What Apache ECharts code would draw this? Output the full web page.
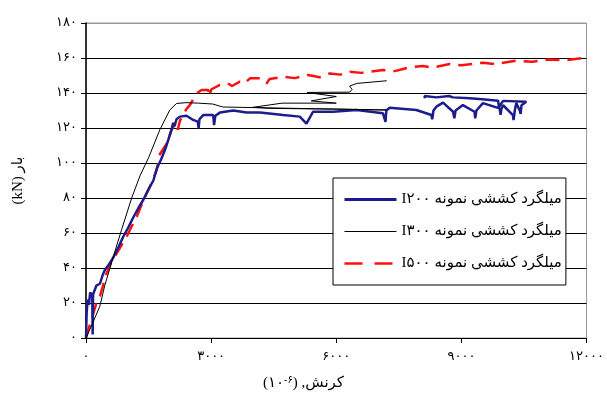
<!DOCTYPE html>
<html>
<head>
<meta charset="utf-8">
<script src="https://cdn.jsdelivr.net/npm/echarts@6/dist/echarts.min.js"></script>
<style>
  html, body { margin: 0; padding: 0; background: #fff; }
  #chart { width: 607px; height: 398px; }
</style>
</head>
<body>
<div id="chart"></div>
<script>
// tick labels (Persian digits)
var xTickLabels = ['۰', '۳۰۰۰', '۶۰۰۰', '۹۰۰۰', '۱۲۰۰۰'];
var yTickLabels = ['۰', '۲۰', '۴۰', '۶۰', '۸۰', '۱۰۰', '۱۲۰', '۱۴۰', '۱۶۰', '۱۸۰'];

var seriesNames = ['I۲۰۰ میلگرد کششی نمونه', 'I۳۰۰ میلگرد کششی نمونه', 'I۵۰۰ میلگرد کششی نمونه'];

// I200 (blue)
var blueStrain = [0, 15, 40, 70, 100, 150, 160, 170, 250, 335, 400, 455, 550, 655, 780, 895, 1010, 1135, 1250, 1375, 1500, 1615, 1700, 1800, 1900, 1970, 2050, 2090, 2120, 2170, 2250, 2410, 2570, 2680, 2700, 2720, 2810, 3050, 3070, 3100, 3210, 3530, 3850, 4170, 4725, 5125, 5285, 5445, 5925, 6485, 7120, 7180, 7200, 7280, 7920, 8280, 8300, 8330, 8400, 8560, 8800, 8830, 8860, 9035, 9315, 9330, 9360, 9515, 9915, 9940, 9960, 10000, 10235, 10250, 10280, 10315, 10400, 10420, 10440, 10555, 10000, 9900, 9880, 9500, 9200, 8800, 8700, 8400, 8120, 8120];
var blueLoad = [0, 14, 22, 19, 26, 24, 2, 25, 30, 31, 36, 39, 42, 46, 52, 58, 63, 69, 74, 79, 85, 90, 97, 102, 108, 113, 119, 123, 121, 125, 126.5, 127, 124.6, 123.6, 119.8, 125, 127.4, 127.4, 121.7, 127, 128.8, 130, 128.8, 128.8, 127.4, 126.5, 122.5, 129.3, 129.3, 130.3, 128.4, 123.5, 130, 131.6, 130.3, 127.4, 125, 130, 132.2, 134.5, 129.3, 125.5, 130, 133.1, 129.3, 125.5, 130, 134.2, 131.2, 127.5, 131, 133, 127.4, 124.5, 130, 134.2, 130, 128, 133, 135, 135.5, 132, 135.6, 136.4, 137, 137.5, 138.3, 137.5, 138.3, 137];

// I300 (black)
var blackStrain = [0, 150, 330, 450, 700, 855, 1095, 1300, 1500, 1770, 2010, 2170, 2400, 2700, 3040, 3280, 4170, 5500, 7200, 6000, 4400, 4000, 4700, 6000, 5400, 6000, 5300, 5700, 6320, 6380, 6320, 6500, 7210];
var blackLoad = [0, 8, 18, 30, 50, 62, 80, 93, 103, 119, 130.3, 134, 134.5, 134.2, 133.7, 132, 131.6, 131, 130.3, 130.8, 131.2, 131.8, 134.2, 134.2, 135.5, 138, 140.3, 140.4, 140.5, 142, 144, 145.5, 147];

// I500 (red, dashed)
var redStrain = [0, 60, 175, 250, 335, 420, 495, 600, 735, 850, 975, 1100, 1215, 1330, 1455, 1560, 1695, 1770, 1935, 2050, 2170, 2200, 2250, 2370, 2420, 2490, 2650, 2770, 2930, 2960, 3000, 3210, 3400, 3500, 3690, 3800, 3930, 4170, 4330, 4400, 4725, 5000, 5325, 5600, 5845, 6100, 6325, 6600, 7125, 7400, 7760, 8080, 8300, 8720, 9000, 9515, 9800, 10315, 10700, 11115, 11500, 12000];
var redLoad = [0, 5, 14, 20, 24, 31, 37, 43, 48.4, 53, 58, 64, 69.3, 76, 82.7, 88, 96, 105, 111, 118.9, 123.6, 119, 124, 129.3, 131.2, 133.1, 139.8, 141.7, 141.7, 138, 142, 144.6, 145.5, 144, 146.5, 145.5, 148.4, 148.4, 145.5, 148, 149.3, 148.5, 150.3, 149, 151.2, 150.5, 152.2, 151.5, 153.1, 152.5, 154.7, 155.4, 154.5, 156.6, 155.8, 157.3, 156.5, 158.5, 157.8, 159.2, 158.7, 160.3];

function pairs(xs, ys) {
    return xs.map(function (x, i) { return [x, ys[i]]; });
}

var serif = '"Liberation Serif", "DejaVu Serif", "DejaVu Sans", serif';

var chart = echarts.init(document.getElementById('chart'), null, { renderer: 'canvas' });

var option = {
    backgroundColor: '#fff',
    animation: false,
    grid: {
        left: 86,
        right: 20,
        top: 23,
        bottom: 60,
        show: true,
        borderColor: '#999',
        borderWidth: 1
    },
    legend: {
        orient: 'vertical',
        left: 333,
        top: 178,
        padding: [14, 4, 14, 10],
        itemWidth: 52,
        itemHeight: 14,
        itemGap: 17,
        backgroundColor: '#fff',
        borderColor: '#000',
        borderWidth: 1,
        itemStyle: { opacity: 0 },
        textStyle: {
            color: '#000',
            fontSize: 15,
            fontFamily: serif
        },
        data: [
            { name: seriesNames[0], lineStyle: { width: 3 } },
            { name: seriesNames[1], lineStyle: { width: 1 } },
            { name: seriesNames[2], lineStyle: { width: 2.5, type: [18, 12] } }
        ]
    },
    xAxis: {
        type: 'value',
        min: 0,
        max: 12000,
        interval: 3000,
        axisLine: { show: true, lineStyle: { color: '#000', width: 1 } },
        axisTick: { show: true, length: 5, lineStyle: { color: '#000' } },
        splitLine: { show: false },
        axisLabel: {
            color: '#000',
            fontSize: 13,
            fontFamily: serif,
            margin: 12,
            formatter: function (v) { return xTickLabels[Math.round(v / 3000)]; }
        }
    },
    yAxis: {
        type: 'value',
        min: 0,
        max: 180,
        interval: 20,
        name: '(kN) بار',
        nameLocation: 'middle',
        nameGap: 60,
        nameRotate: 90,
        nameTextStyle: { color: '#000', fontSize: 15, fontFamily: serif },
        axisLine: { show: true, lineStyle: { color: '#000', width: 1.5 } },
        axisTick: { show: true, length: 5, lineStyle: { color: '#000' } },
        splitLine: {
            show: true,
            lineStyle: {
                color: ['#000', '#000', '#000', '#000', '#000', '#000', '#000', '#000', '#000', '#999'],
                width: 1
            }
        },
        axisLabel: {
            color: '#000',
            fontSize: 13,
            fontFamily: serif,
            margin: 9,
            formatter: function (v) { return yTickLabels[Math.round(v / 20)]; }
        }
    },
    graphic: [{
        type: 'text',
        left: 'center',
        top: 375,
        style: {
            text: '{n|(۱۰}{s|-۶}{n|) ,کرنش}',
            rich: {
                n: { fontSize: 15, fontFamily: serif, fill: '#000' },
                s: { fontSize: 10, fontFamily: serif, fill: '#000', verticalAlign: 'top', padding: [0, 0, 6, 0] }
            }
        }
    }],
    series: [
        {
            name: seriesNames[0],
            type: 'line',
            symbol: 'none',
            z: 3,
            lineStyle: { color: '#1c1c8c', width: 2.5 },
            itemStyle: { color: '#1c1c8c' },
            data: pairs(blueStrain, blueLoad)
        },
        {
            name: seriesNames[1],
            type: 'line',
            symbol: 'none',
            z: 4,
            lineStyle: { color: '#000', width: 1 },
            itemStyle: { color: '#000' },
            data: pairs(blackStrain, blackLoad)
        },
        {
            name: seriesNames[2],
            type: 'line',
            symbol: 'none',
            z: 2,
            lineStyle: { color: '#ff1010', width: 2.5, type: [14, 8] },
            itemStyle: { color: '#ff1010' },
            data: pairs(redStrain, redLoad)
        }
    ]
};

chart.setOption(option);
</script>
</body>
</html>
